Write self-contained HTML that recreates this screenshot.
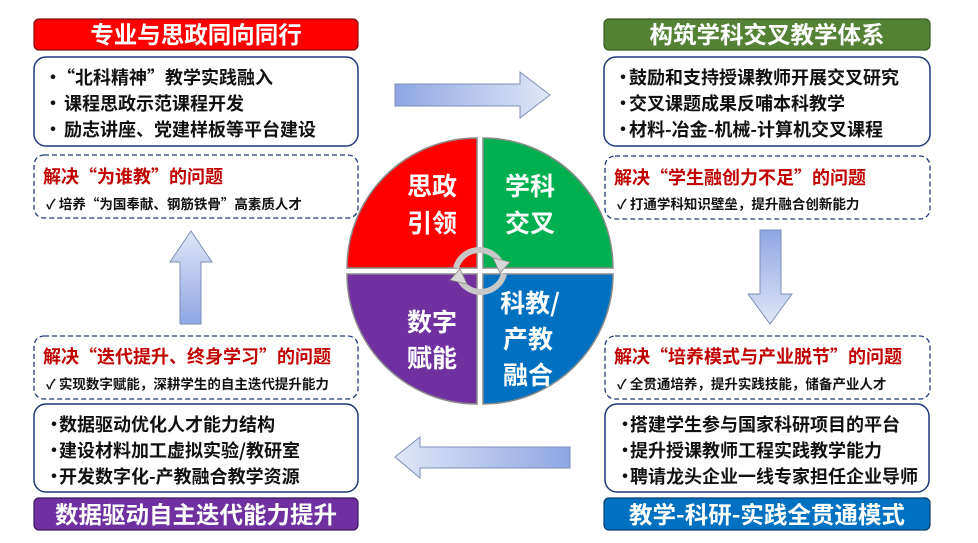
<!DOCTYPE html>
<html><head><meta charset="utf-8"><style>
html,body{margin:0;padding:0;background:#fff;width:978px;height:543px;overflow:hidden}
svg{display:block}
text{font-family:"Noto Sans CJK SC","Liberation Sans",sans-serif;font-weight:bold}
.t{font-size:23.5px;fill:#fff}
.b{font-size:18px;fill:#111}
.r{font-size:18px;fill:#c00000}
.c{font-size:13.5px;fill:#111}
.q{font-size:25px;fill:#fff}
</style></head><body>
<svg width="978" height="543" viewBox="0 0 978 543">
<defs>
<linearGradient id="gh" x1="0" x2="1" y1="0" y2="0"><stop offset="0" stop-color="#8fa6e3"/><stop offset="1" stop-color="#dfe6f7"/></linearGradient>
<linearGradient id="gh2" x1="1" x2="0" y1="0" y2="0"><stop offset="0" stop-color="#8fa6e3"/><stop offset="1" stop-color="#dfe6f7"/></linearGradient>
<linearGradient id="gv" x1="0" x2="0" y1="0" y2="1"><stop offset="0" stop-color="#8fa6e3"/><stop offset="1" stop-color="#dfe6f7"/></linearGradient>
<linearGradient id="gv2" x1="0" x2="0" y1="1" y2="0"><stop offset="0" stop-color="#8fa6e3"/><stop offset="1" stop-color="#dfe6f7"/></linearGradient>
</defs>

<!-- Top-left -->
<rect x="34" y="19" width="324" height="31" rx="5" fill="#f00" stroke="#7f1010" stroke-width="1.2"/>
<text class="t" x="196" y="43" text-anchor="middle">专业与思政同向同行</text>
<rect x="34" y="57" width="324" height="89" rx="12" fill="#fff" stroke="#1f3a7a" stroke-width="1.5"/>
<text class="b" x="44" y="84">•</text><text class="b" x="57" y="84">“北科精神”教学实践融入</text>
<text class="b" x="44" y="110">•</text><text class="b" x="64" y="110">课程思政示范课程开发</text>
<text class="b" x="44" y="136">•</text><text class="b" x="64" y="136">励志讲座、党建样板等平台建设</text>
<rect x="34" y="155" width="324" height="63" rx="10" fill="#fff" stroke="#1f3a7a" stroke-width="1.3" stroke-dasharray="5,3"/>
<text class="r" x="43" y="183">解决“为谁教”的问题</text>
<text class="c" x="46" y="209">✓  培养“为国奉献、钢筋铁骨”高素质人才</text>

<!-- Top-right -->
<rect x="604" y="19" width="326" height="31" rx="5" fill="#548235" stroke="#3a5a24" stroke-width="1.2"/>
<text class="t" x="767" y="43" text-anchor="middle">构筑学科交叉教学体系</text>
<rect x="604" y="57" width="326" height="89" rx="12" fill="#fff" stroke="#1f3a7a" stroke-width="1.5"/>
<text class="b" x="614" y="84">•</text><text class="b" x="629" y="84">鼓励和支持授课教师开展交叉研究</text>
<text class="b" x="614" y="110">•</text><text class="b" x="629" y="110">交叉课题成果反哺本科教学</text>
<text class="b" x="614" y="136">•</text><text class="b" x="629" y="136">材料-冶金-机械-计算机交叉课程</text>
<rect x="605" y="156" width="325" height="63" rx="10" fill="#fff" stroke="#1f3a7a" stroke-width="1.3" stroke-dasharray="5,3"/>
<text class="r" x="614" y="184">解决“学生融创力不足”的问题</text>
<text class="c" x="617" y="209">✓  打通学科知识壁垒，提升融合创新能力</text>

<!-- Bottom-left -->
<rect x="34" y="336" width="324" height="63" rx="10" fill="#fff" stroke="#1f3a7a" stroke-width="1.3" stroke-dasharray="5,3"/>
<text class="r" x="43" y="363">解决“迭代提升、终身学习”的问题</text>
<text class="c" x="46" y="389">✓  实现数字赋能，深耕学生的自主迭代提升能力</text>
<rect x="34" y="404" width="324" height="88" rx="12" fill="#fff" stroke="#1f3a7a" stroke-width="1.5"/>
<text class="b" x="45" y="431">•</text><text class="b" x="59" y="431">数据驱动优化人才能力结构</text>
<text class="b" x="45" y="457">•</text><text class="b" x="59" y="457">建设材料加工虚拟实验/教研室</text>
<text class="b" x="45" y="483">•</text><text class="b" x="59" y="483">开发数字化-产教融合教学资源</text>
<rect x="34" y="498" width="324" height="32" rx="5" fill="#7030a0" stroke="#3e1860" stroke-width="1.2"/>
<text class="t" x="196" y="523" text-anchor="middle">数据驱动自主迭代能力提升</text>

<!-- Bottom-right -->
<rect x="605" y="336" width="325" height="63" rx="10" fill="#fff" stroke="#1f3a7a" stroke-width="1.3" stroke-dasharray="5,3"/>
<text class="r" x="614" y="363">解决“培养模式与产业脱节”的问题</text>
<text class="c" x="617" y="389">✓  全贯通培养，提升实践技能，储备产业人才</text>
<rect x="605" y="404" width="324" height="88" rx="12" fill="#fff" stroke="#1f3a7a" stroke-width="1.5"/>
<text class="b" x="616" y="431">•</text><text class="b" x="630" y="431">搭建学生参与国家科研项目的平台</text>
<text class="b" x="616" y="457">•</text><text class="b" x="630" y="457">提升授课教师工程实践教学能力</text>
<text class="b" x="616" y="483">•</text><text class="b" x="630" y="483">聘请龙头企业一线专家担任企业导师</text>
<rect x="604" y="498" width="326" height="32" rx="5" fill="#0070c0" stroke="#0a3f70" stroke-width="1.2"/>
<text class="t" x="767" y="523" text-anchor="middle">教学-科研-实践全贯通模式</text>

<!-- Arrows -->
<path d="M395,84 H520 V72 L550,95 L520,118 V106 H395 Z" fill="url(#gh)" stroke="#7f8fb8" stroke-width="1"/>
<path d="M760,230 H781 V294 H792 L770,324 L748,294 H760 Z" fill="url(#gv)" stroke="#7f8fb8" stroke-width="1"/>
<path d="M570,447 H420 V437 L395,457 L420,478 V468 H570 Z" fill="url(#gh2)" stroke="#7f8fb8" stroke-width="1"/>
<path d="M180,324 H201 V262 H212 L191,231 L170,262 H180 Z" fill="url(#gv2)" stroke="#7f8fb8" stroke-width="1"/>

<!-- Circle quadrants -->
<path d="M477,268 H347 A130,130 0 0 1 477,138 Z" fill="#f00" stroke="#8a8a8a" stroke-width="1.5"/>
<path d="M483,268 V138 A130,130 0 0 1 613,268 Z" fill="#00b050" stroke="#8a8a8a" stroke-width="1.5"/>
<path d="M477,274 H347 A130,130 0 0 0 477,404 Z" fill="#7030a0" stroke="#8a8a8a" stroke-width="1.5"/>
<path d="M483,274 H613 A130,130 0 0 1 483,404 Z" fill="#0070c0" stroke="#8a8a8a" stroke-width="1.5"/>
<text class="q" x="432" y="195" text-anchor="middle">思政</text>
<text class="q" x="432" y="232" text-anchor="middle">引领</text>
<text class="q" x="530" y="195" text-anchor="middle">学科</text>
<text class="q" x="530" y="232" text-anchor="middle">交叉</text>
<text class="q" x="432" y="331" text-anchor="middle">数字</text>
<text class="q" x="432" y="367" text-anchor="middle">赋能</text>
<text class="q" x="530" y="312" text-anchor="middle">科教/</text>
<text class="q" x="528" y="348" text-anchor="middle">产教</text>
<text class="q" x="528" y="384" text-anchor="middle">融合</text>

<!-- cycle arrows -->
<path d="M456,268 A24,24 0 0 1 500,262" fill="none" stroke="#c8c8c8" stroke-width="6"/>
<path d="M493,258 L510,262 L500,273 Z" fill="#d8d8d8" stroke="#888" stroke-width="0.8"/>
<path d="M504,274 A24,24 0 0 1 460,280" fill="none" stroke="#c8c8c8" stroke-width="6"/>
<path d="M467,284 L450,280 L460,269 Z" fill="#d8d8d8" stroke="#888" stroke-width="0.8"/>
</svg>
</body></html>
